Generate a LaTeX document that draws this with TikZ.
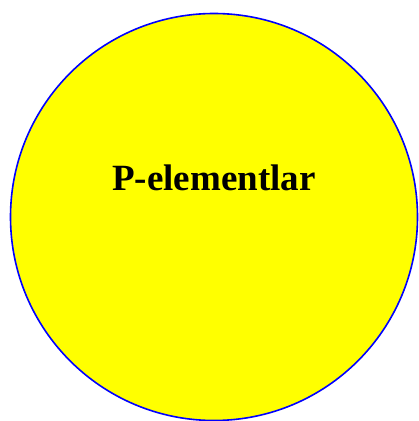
\documentclass[tikz,border=0pt]{standalone}
\usepackage{fontspec}
\setmainfont{Liberation Serif}
\usepackage{tikz}
\definecolor{pblue}{RGB}{0,0,255}
\definecolor{pyellow}{RGB}{255,255,0}

\begin{document}
\begin{tikzpicture} [x=1pt,y=1pt]
            \useasboundingbox (0,0) rectangle (419,421);
            \node[circle, draw=pblue, fill=pyellow, line width=1.6pt, minimum size=407pt, inner sep=0pt] (disk) at (214,204) {};
            \node[font=\bfseries\fontsize{37}{44}\selectfont] (lbl) at (214,243) {P-elementlar};
        \end{tikzpicture}
\end{document}
